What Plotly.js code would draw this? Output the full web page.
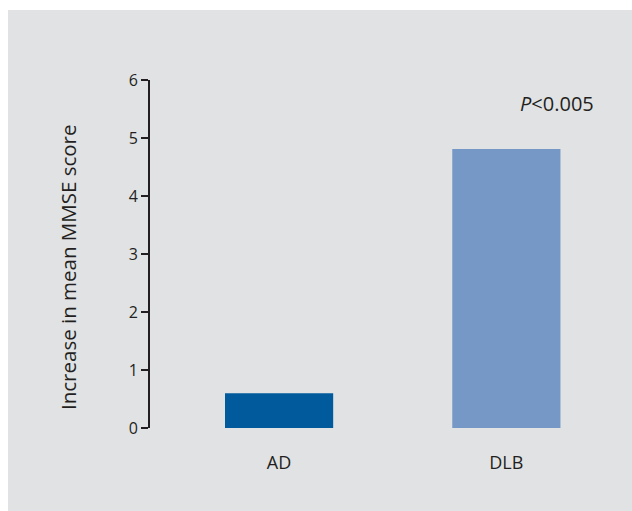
<!DOCTYPE html>
<html>
<head>
<meta charset="utf-8">
<script src="https://cdn.plot.ly/plotly-3.0.1.min.js"></script>
<style>
html,body{margin:0;padding:0;background:#ffffff;width:632px;height:511px;overflow:hidden;}
#chart{position:absolute;left:8px;top:10px;width:624px;height:501px;}
</style>
</head>
<body>
<div id="chart"></div>
<script>
const categories = ["AD", "DLB"];
const values = [0.6, 4.81];
const barColors = ["#005a9c", "#7698c6"];
const yTicks = [0, 1, 2, 3, 4, 5, 6];
const yTitle = "Increase in mean MMSE score";
const pText = "<i>P</i>&lt;0.005";

const trace = {
  type: "bar",
  x: categories,
  y: values,
  marker: {color: barColors, line: {width: 0}},
  width: 0.476,
  hoverinfo: "none"
};

const layout = {
  width: 624,
  height: 501,
  paper_bgcolor: "#e1e2e4",
  plot_bgcolor: "#e1e2e4",
  margin: {l: 142, r: 12, t: 70, b: 83},
  showlegend: false,
  font: {family: "Open Sans, sans-serif", color: "#231f20"},
  xaxis: {
    type: "category",
    range: [-0.568, 1.5],
    showline: false,
    showgrid: false,
    zeroline: false,
    ticks: "outside",
    ticklen: 18,
    tickcolor: "rgba(0,0,0,0)",
    tickfont: {size: 18, color: "#231f20"},
    fixedrange: true
  },
  yaxis: {
    range: [0, 6],
    tickvals: yTicks,
    showline: true,
    linecolor: "#231f20",
    linewidth: 2,
    showgrid: false,
    zeroline: false,
    ticks: "outside",
    ticklen: 7,
    tickwidth: 1.5,
    tickcolor: "#231f20",
    tickfont: {size: 16, color: "#231f20"},
    fixedrange: true
  },
  annotations: [{
    xref: "paper", yref: "y",
    x: 0.867, y: 5.6,
    text: pText,
    showarrow: false,
    xanchor: "center", yanchor: "middle",
    font: {size: 20, color: "#231f20"}
  }, {
    xref: "paper", yref: "paper",
    x: -0.1745, y: 0.4626,
    text: yTitle,
    textangle: -90,
    showarrow: false,
    xanchor: "center", yanchor: "middle",
    font: {size: 20.5, color: "#231f20"}
  }]
};

Plotly.newPlot("chart", [trace], layout, {displayModeBar: false, staticPlot: true});
</script>
</body>
</html>
